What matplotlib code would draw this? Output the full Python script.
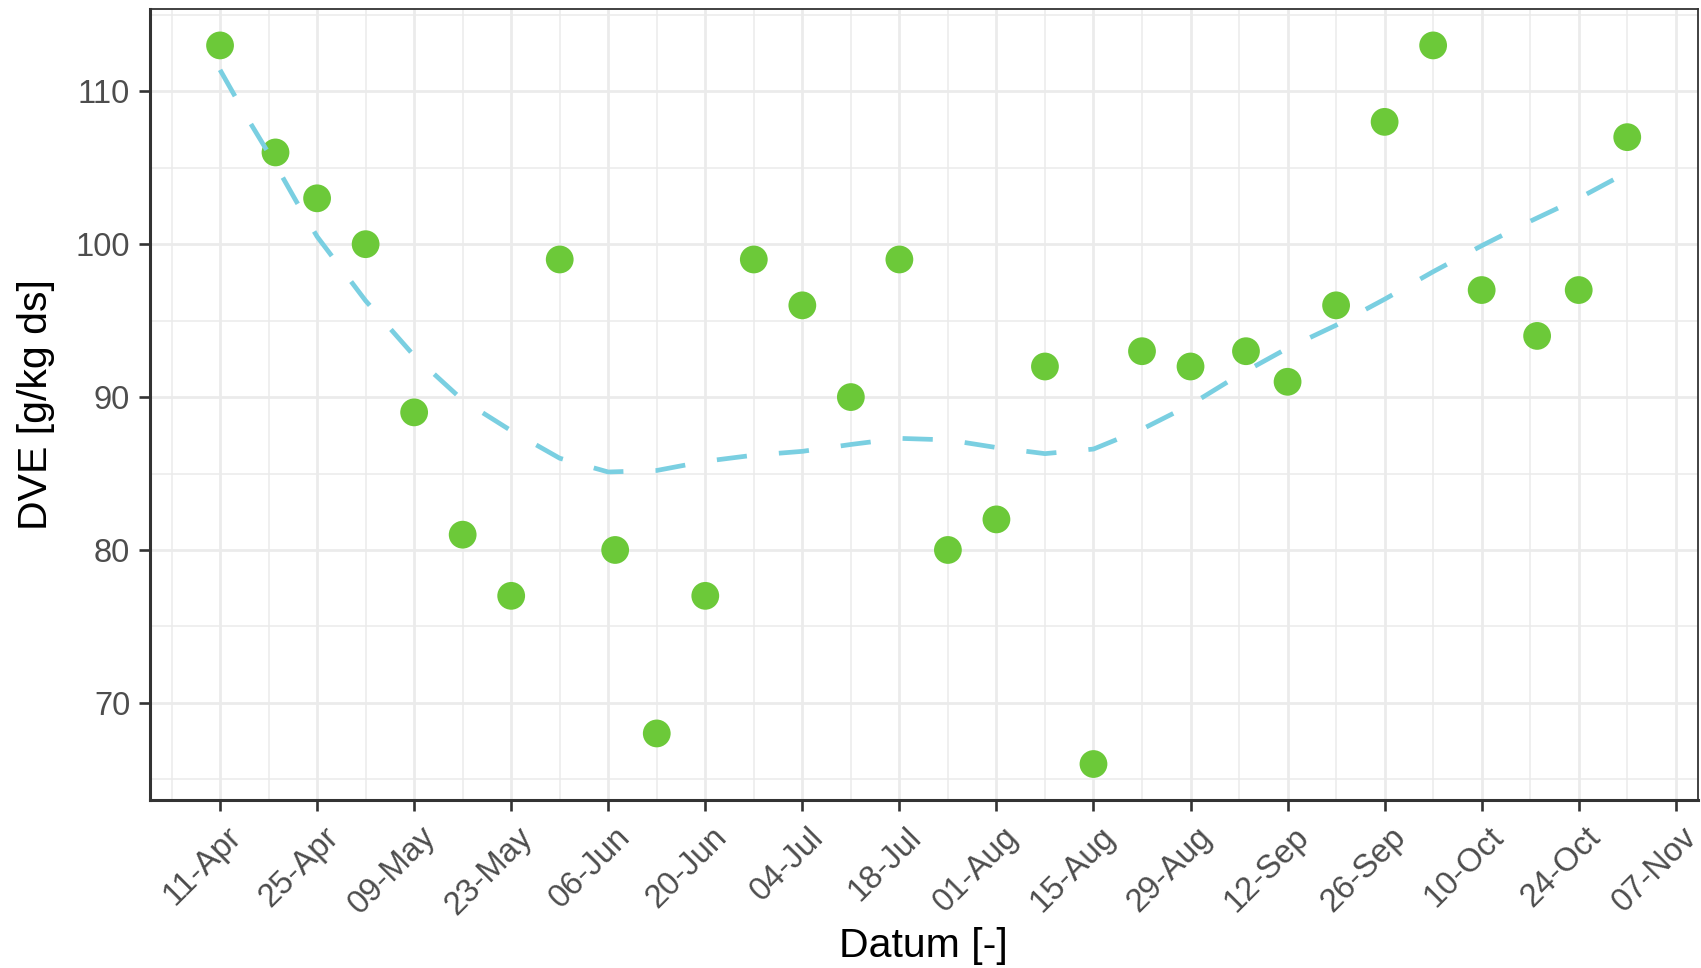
import matplotlib
matplotlib.use("Agg")
import matplotlib.pyplot as plt
import matplotlib.dates as mdates
import matplotlib.transforms as mtransforms
import numpy as np
import datetime as dt

# ---- data ----
dates = ["2021-04-11", "2021-04-19", "2021-04-25", "2021-05-02", "2021-05-09",
         "2021-05-16", "2021-05-23", "2021-05-30", "2021-06-07", "2021-06-13",
         "2021-06-20", "2021-06-27", "2021-07-04", "2021-07-11", "2021-07-18",
         "2021-07-25", "2021-08-01", "2021-08-08", "2021-08-15", "2021-08-22",
         "2021-08-29", "2021-09-06", "2021-09-12", "2021-09-19", "2021-09-26",
         "2021-10-03", "2021-10-10", "2021-10-18", "2021-10-24", "2021-10-31"]
dve = [113, 106, 103, 100, 89, 81, 77, 99, 80, 68,
       77, 99, 96, 90, 99, 80, 82, 92, 66, 93,
       92, 93, 91, 96, 108, 113, 97, 94, 97, 107]

# smooth trend
smooth_dates = ["2021-04-11", "2021-04-15", "2021-04-19", "2021-04-22", "2021-04-25",
                "2021-05-02", "2021-05-09", "2021-05-16", "2021-05-23", "2021-05-30",
                "2021-06-06", "2021-06-13", "2021-06-20", "2021-06-27", "2021-07-04",
                "2021-07-11", "2021-07-18", "2021-07-25", "2021-08-01", "2021-08-08",
                "2021-08-15", "2021-08-22", "2021-08-29", "2021-09-05", "2021-09-12",
                "2021-09-19", "2021-09-26", "2021-10-03", "2021-10-10", "2021-10-17",
                "2021-10-24", "2021-10-31"]
smooth_vals = [111.4, 108.2, 105.2, 102.8, 100.5,
               96.3, 92.7, 89.8, 87.8, 86.0,
               85.1, 85.2, 85.8, 86.2, 86.45,
               86.9, 87.3, 87.2, 86.7, 86.3,
               86.6, 87.9, 89.5, 91.45, 93.2,
               94.7, 96.4, 98.2, 99.9, 101.5,
               103.0, 104.7]

xtick_dates = ["2021-04-11", "2021-04-25", "2021-05-09", "2021-05-23", "2021-06-06",
               "2021-06-20", "2021-07-04", "2021-07-18", "2021-08-01", "2021-08-15",
               "2021-08-29", "2021-09-12", "2021-09-26", "2021-10-10", "2021-10-24",
               "2021-11-07"]
yticks = [70, 80, 90, 100, 110]
yminor = [65, 75, 85, 95, 105, 115]

xlabel = "Datum [-]"
ylabel = "DVE [g/kg ds]"

# ---- styling ----
plt.rcParams['font.family'] = ['Liberation Sans', 'DejaVu Sans']
point_color = "#6CC939"
line_color = "#7ACFE1"
grid_color = "#EBEBEB"
frame_color = "#333333"

to_d = lambda s: dt.datetime.strptime(s, "%Y-%m-%d")
xd = [to_d(s) for s in dates]
sd = [to_d(s) for s in smooth_dates]
xt = [to_d(s) for s in xtick_dates]
xminor = [t - dt.timedelta(days=7) for t in xt]

fig = plt.figure(figsize=(17.01, 9.68), dpi=100)
ax_left, ax_bottom, ax_w, ax_h = 0.088, 0.1736, 0.910, 0.8166
ax = fig.add_axes([ax_left, ax_bottom, ax_w, ax_h])

# limits with 5% expansion
xn = mdates.date2num(xd)
xr = xn.max() - xn.min()
ax.set_xlim(xn.min() - 0.05 * xr, xn.max() + 0.05 * xr)
yr = max(dve) - min(dve)
ax.set_ylim(min(dve) - 0.05 * yr, max(dve) + 0.05 * yr)

# grid
ax.set_xticks(xt)
ax.set_xticks(xminor, minor=True)
ax.set_yticks(yticks)
ax.set_yticks(yminor, minor=True)
ax.grid(which='major', color=grid_color, linewidth=2.0, zorder=0)
ax.grid(which='minor', color=grid_color, linewidth=1.1, zorder=0)
ax.set_axisbelow(True)
ax.tick_params(which='minor', length=0)

ax.scatter(xd, dve, s=400, color=point_color, edgecolors='none', zorder=3)
ax.plot(sd, smooth_vals, color=line_color, linewidth=3.4, dashes=(6.4, 6.8),
        dash_capstyle='butt', zorder=4)

ax.xaxis.set_major_formatter(mdates.DateFormatter("%d-%b"))
ax.tick_params(which='major', length=8, width=1.9, color=frame_color,
               labelsize=23.6, labelcolor="#4D4D4D", pad=6)
offset = mtransforms.ScaledTranslation(6 / 100, -2 / 100, fig.dpi_scale_trans)
for lab in ax.get_xticklabels():
    lab.set_rotation(45)
    lab.set_ha('right')
    lab.set_va('top')
    lab.set_rotation_mode('anchor')
    lab.set_transform(lab.get_transform() + offset)

for side in ['left', 'bottom']:
    ax.spines[side].set_linewidth(2.2)
    ax.spines[side].set_color(frame_color)
for side in ['top', 'right']:
    ax.spines[side].set_linewidth(1.3)
    ax.spines[side].set_color(frame_color)

# axis titles
fig.text(ax_left + ax_w / 2, 11 / 968, xlabel, fontsize=29.5, color='black',
         ha='center', va='baseline')
fig.text(36 / 1701, ax_bottom + ax_h / 2, ylabel, fontsize=29.5, color='black',
         ha='center', va='center', rotation=90)

fig.savefig("out.png", dpi=100)
